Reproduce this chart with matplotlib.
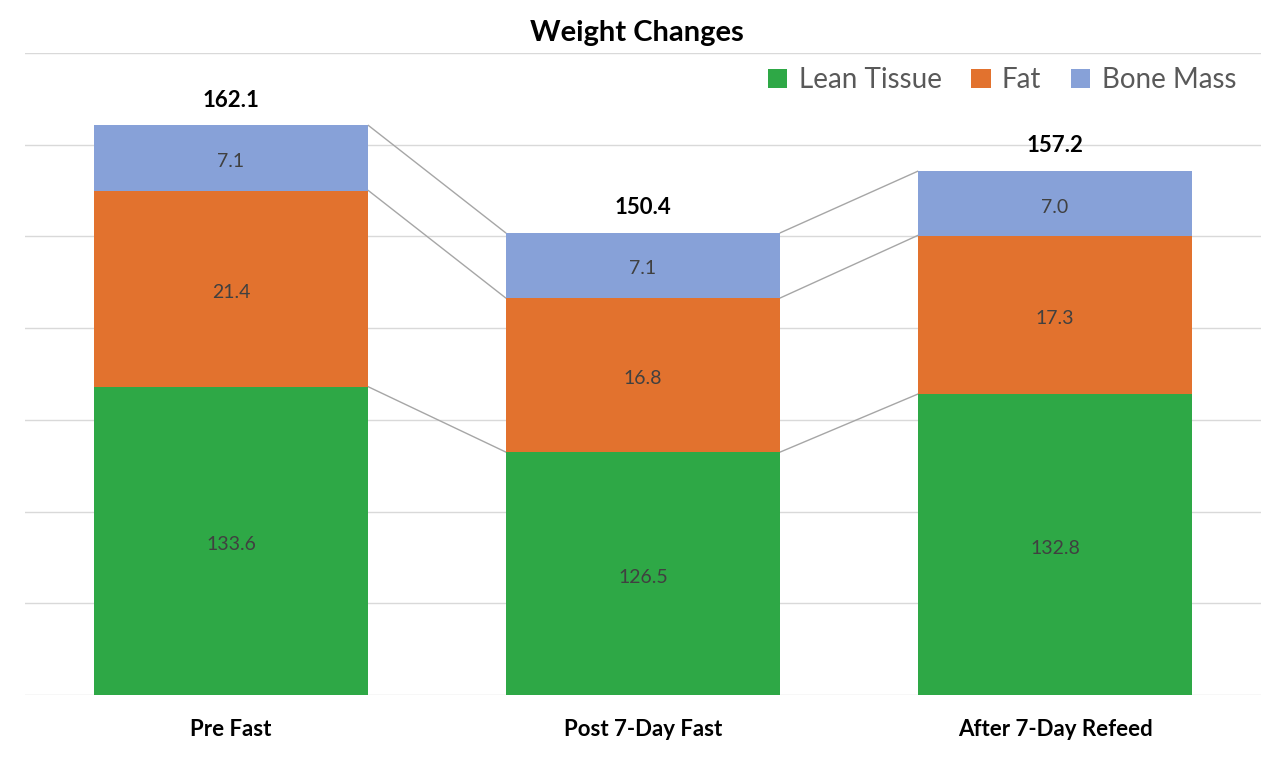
import matplotlib.pyplot as plt
import numpy as np

plt.rcParams['font.family'] = ['Lato', 'DejaVu Sans']

# Data
categories = ["Pre Fast", "Post 7-Day Fast", "After 7-Day Refeed"]
lean = [133.6, 126.5, 132.8]
fat = [21.4, 16.8, 17.3]
bone = [7.1, 7.1, 7.0]
totals = [162.1, 150.4, 157.2]

series = [("Lean Tissue", lean, "#2EA846"),
          ("Fat", fat, "#E2722E"),
          ("Bone Mass", bone, "#87A1D8")]

fig = plt.figure(figsize=(12.74, 7.64), dpi=100)
ax = fig.add_axes([25 / 1274, 69 / 764, 1236 / 1274, 642 / 764])

x = np.arange(len(categories))
width = 0.667
bottom = np.zeros(len(categories))
tops = []
for name, vals, color in series:
    vals = np.array(vals)
    ax.bar(x, vals, width, bottom=bottom, color=color, label=name, zorder=2)
    for xi, b, v in zip(x, bottom, vals):
        # the lean segment is drawn from the axis floor (100)
        mid = (max(b, 100) + b + v) / 2 - 0.4
        ax.text(xi, mid, f"{v:.1f}", ha="center", va="center",
                fontsize=14, color="#404040", zorder=3)
    bottom = bottom + vals
    tops.append(bottom.copy())

# connector lines between segment tops
for level in tops:
    for i in range(len(categories) - 1):
        ax.plot([x[i] + width / 2, x[i + 1] - width / 2], [level[i], level[i + 1]],
                color="#A6A6A6", lw=1, zorder=1)

for xi, t in zip(x, totals):
    ax.text(xi, t + 1.6, f"{t:.1f}", ha="center", va="bottom",
            fontsize=16, fontweight="bold", color="black")

ax.set_ylim(100, 170)
ax.set_xlim(-0.5, 2.5)
ax.set_yticks(np.arange(100, 171, 10))
ax.yaxis.grid(True, color="#D9D9D9", lw=1, zorder=0)
ax.set_axisbelow(True)
ax.tick_params(axis="y", left=False, labelleft=False)
ax.tick_params(axis="x", bottom=False, pad=14)
ax.set_xticks(x)
ax.set_xticklabels(categories, fontsize=16, fontweight="bold")
for s in ax.spines.values():
    s.set_visible(False)

ax.legend(loc="center right", bbox_to_anchor=(1236 / 1274, 1 - 80 / 764),
          bbox_transform=fig.transFigure, ncol=3, frameon=False,
          fontsize=20, handlelength=0.7, handleheight=0.7, handletextpad=0.4,
          columnspacing=1.07, labelcolor="#595959", borderaxespad=0, borderpad=0)

fig.text(0.5, 1 - 33 / 764, "Weight Changes", ha="center", va="center",
         fontsize=21, fontweight="bold")

fig.savefig("out.png", dpi=100)
